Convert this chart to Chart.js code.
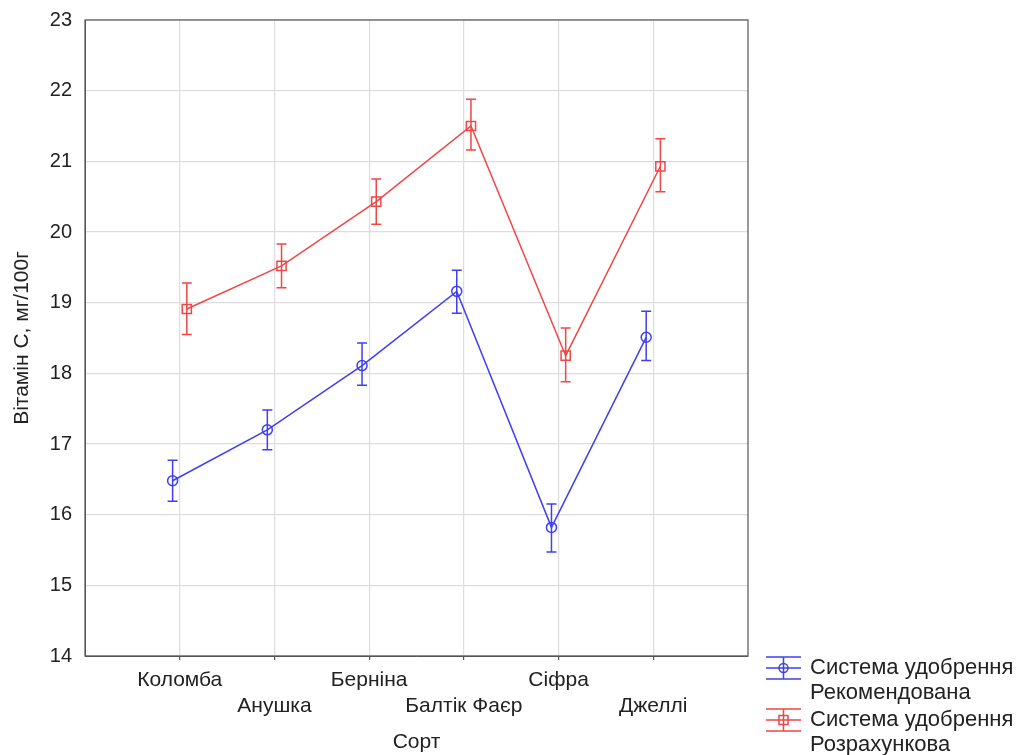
<!DOCTYPE html>
<html>
<head>
<meta charset="utf-8">
<script src="https://cdn.jsdelivr.net/npm/chart.js@4"></script>
<style>
html, body { margin: 0; padding: 0; background: #fff; }
#wrap { width: 1018px; height: 755px; position: relative; }
</style>
</head>
<body>
<div id="wrap"><canvas id="chart"></canvas></div>
<script>
// data
const varieties = ['Коломба', 'Анушка', 'Берніна', 'Балтік Фаєр', 'Сіфра', 'Джеллі'];
const recMean = [16.48, 17.20, 18.11, 19.16, 15.82, 18.51];
const recLow = [16.19, 16.92, 17.83, 18.85, 15.47, 18.18];
const recHigh = [16.77, 17.48, 18.43, 19.46, 16.15, 18.88];
const calcMean = [18.91, 19.52, 20.43, 21.50, 18.25, 20.93];
const calcLow = [18.55, 19.21, 20.11, 21.16, 17.88, 20.57];
const calcHigh = [19.28, 19.83, 20.75, 21.88, 18.64, 21.32];
const seriesNames = [['Система удобрення', 'Рекомендована'], ['Система удобрення', 'Розрахункова']];
const yTicks = [14, 15, 16, 17, 18, 19, 20, 21, 22, 23];

const BLUE = '#3f3ff0';
const RED = '#f04646';
const FONT = "'Liberation Sans', Arial, sans-serif";
const shift = [-0.075, 0.075];
const errors = [[recLow, recHigh], [calcLow, calcHigh]];

function points(values, k) {
    return values.map((v, i) => ({ x: i + 1 + shift[k], y: v }));
}

const errorBars = {
    id: 'errorBars',
    afterDatasetsDraw(chart) {
        const ctx = chart.ctx;
        const xs = chart.scales.x, ys = chart.scales.y;
        chart.data.datasets.forEach((ds, k) => {
            ctx.save();
            ctx.strokeStyle = ds.borderColor;
            ctx.lineWidth = 1.5;
            errors[k][0].forEach((lo, i) => {
                const px = xs.getPixelForValue(i + 1 + shift[k]);
                const y1 = ys.getPixelForValue(lo);
                const y2 = ys.getPixelForValue(errors[k][1][i]);
                ctx.beginPath();
                ctx.moveTo(px, y1); ctx.lineTo(px, y2);
                ctx.moveTo(px - 5, y1); ctx.lineTo(px + 5, y1);
                ctx.moveTo(px - 5, y2); ctx.lineTo(px + 5, y2);
                ctx.stroke();
            });
            ctx.restore();
        });
    }
};

const frame = {
    id: 'frame',
    afterDraw(chart) {
        const a = chart.chartArea, ctx = chart.ctx;
        ctx.save();
        ctx.strokeStyle = '#555';
        ctx.lineWidth = 1.2;
        ctx.strokeRect(a.left, a.top, a.right - a.left, a.bottom - a.top);
        ctx.restore();
    }
};

const legendBox = {
    id: 'legendBox',
    afterDraw(chart) {
        const ctx = chart.ctx;
        ctx.save();
        chart.data.datasets.forEach((ds, k) => {
            const cy = 668 + k * 52;
            const x0 = 766, x1 = 801, cx = (x0 + x1) / 2;
            ctx.strokeStyle = ds.borderColor;
            ctx.lineWidth = 1.5;
            ctx.beginPath();
            ctx.moveTo(x0, cy); ctx.lineTo(x1, cy);
            ctx.moveTo(x0, cy - 11); ctx.lineTo(x1, cy - 11);
            ctx.moveTo(x0, cy + 11); ctx.lineTo(x1, cy + 11);
            ctx.moveTo(cx, cy - 11); ctx.lineTo(cx, cy + 11);
            ctx.stroke();
            ctx.beginPath();
            if (k === 0) ctx.arc(cx, cy, 4.5, 0, Math.PI * 2);
            else ctx.rect(cx - 4.5, cy - 4.5, 9, 9);
            ctx.stroke();
            ctx.fillStyle = '#222';
            ctx.font = '22px ' + FONT;
            ctx.textBaseline = 'middle';
            ctx.textAlign = 'left';
            seriesNames[k].forEach((t, j) => ctx.fillText(t, 810, cy + j * 25));
        });
        ctx.restore();
    }
};

new Chart(document.getElementById('chart'), {
    type: 'line',
    data: {
        datasets: [{
            label: seriesNames[0].join(' '),
            data: points(recMean, 0),
            borderColor: BLUE,
            borderWidth: 1.5,
            pointStyle: 'circle',
            pointRadius: 5,
            pointBorderWidth: 1.5,
            pointBorderColor: BLUE,
            pointBackgroundColor: 'rgba(0,0,0,0)',
            tension: 0
        }, {
            label: seriesNames[1].join(' '),
            data: points(calcMean, 1),
            borderColor: RED,
            borderWidth: 1.5,
            pointStyle: 'rect',
            pointRadius: 6.5,
            pointBorderWidth: 1.5,
            pointBorderColor: RED,
            pointBackgroundColor: 'rgba(0,0,0,0)',
            tension: 0
        }]
    },
    options: {
        responsive: true,
        maintainAspectRatio: false,
        animation: false,
        layout: { padding: { left: 0, right: 270, top: 20, bottom: 0 } },
        plugins: { legend: { display: false }, tooltip: { enabled: false } },
        scales: {
            x: {
                type: 'linear',
                min: 0,
                max: 7,
                afterBuildTicks(scale) {
                    scale.ticks = varieties.map((v, i) => ({ value: i + 1 }));
                },
                afterFit(scale) { scale.height = 99; },
                ticks: {
                    autoSkip: false,
                    maxRotation: 0,
                    padding: 8,
                    color: '#222',
                    font: { family: FONT, size: 21 },
                    callback(value) {
                        const i = Math.round(value) - 1;
                        return i % 2 === 0 ? [varieties[i]] : ['', varieties[i]];
                    }
                },
                grid: { color: '#dddddd', lineWidth: 1.2, tickLength: 4, tickColor: '#555' },
                border: { color: '#555' },
                title: {
                    display: true,
                    text: 'Сорт',
                    color: '#222',
                    font: { family: FONT, size: 21 },
                    padding: { top: 0, bottom: 0 }
                }
            },
            y: {
                min: 14,
                max: 23,
                afterBuildTicks(scale) {
                    scale.ticks = yTicks.map(v => ({ value: v }));
                },
                afterFit(scale) {
                    scale.width = 85;
                    scale.paddingTop = 0;
                    scale.paddingBottom = 0;
                },
                ticks: {
                    padding: 13,
                    color: '#222',
                    font: { family: FONT, size: 20 }
                },
                grid: { color: '#dddddd', lineWidth: 1.2, drawTicks: false },
                border: { color: '#555' },
                title: {
                    display: true,
                    text: 'Вітамін С, мг/100г',
                    color: '#222',
                    font: { family: FONT, size: 21 },
                    padding: { top: 10, bottom: 0 }
                }
            }
        }
    },
    plugins: [errorBars, frame, legendBox]
});
</script>
</body>
</html>
